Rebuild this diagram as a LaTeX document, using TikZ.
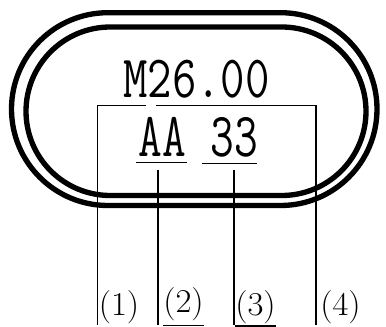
\documentclass[tikz,border=0pt]{standalone}
\usepackage{fontspec}
\usepackage{tikz}
\usepackage{amsmath}

\begin{document}
\begin{tikzpicture}[x=0.75pt,y=-0.75pt,
			ring/.style={line width=4pt},
			lead/.style={line width=1pt},
			code/.style={font=\fontsize{45}{48}\selectfont\ttfamily, inner sep=0pt, anchor=base, xscale=0.79},
			tag/.style={font=\fontsize{25}{27}\selectfont, inner sep=0pt, anchor=base west, xscale=1.04}]
			\useasboundingbox (0,0) rectangle (386,327);
			% the two rings
			\draw[ring, rounded corners=72.3pt] (11.5,12.7) rectangle (377,205.5);
			\draw[ring, rounded corners=63.2pt] (26,27) rectangle (366,195.5);
			% marking
			\node[code] (mark) at (196.5,98) {M26.00};
			\node[code, font=\fontsize{47}{50}\selectfont\ttfamily, xscale=0.93] (aa) at (162.5,156.5) {AA};
			\node[code, font=\fontsize{47}{50}\selectfont\ttfamily, xscale=0.93] (nn) at (234.5,156.5) {33};
			\draw[lead] (136,162.5) -- (187,162.5);
			\draw[lead] (202,163.5) -- (257,163.5);
			% labels
			\node[tag] (l1) at (98.5,316) {(1)};
			\node[tag] (l2) at (163,313) {(2)};
			\node[tag] (l3) at (235,316) {(3)};
			\node[tag] (l4) at (320,316) {(4)};
			\draw[lead] ([yshift=-3pt]l2.south west) -- ([yshift=-3pt]l2.south east);
			\draw[lead] ([yshift=-1pt]l3.south west) -- ([yshift=-1pt]l3.south east);
			% leaders
			\coordinate (b1) at (97.5,105.5);
			\coordinate (b2) at (146,105.5);
			\coordinate (b3) at (156,105.5);
			\coordinate (b4) at (316,105.5);
			\coordinate (t2) at (158,170);
			\coordinate (t3) at (234,170);
			\draw[lead] (b1 |- l1.south) -- (b1) -- (b2);
			\draw[lead] (b3) -- (b4) -- (b4 |- l4.south);
			\draw[lead] (t2) -- (t2 |- l1.south);
			\draw[lead] (t3) -- (t3 |- l1.south);
\end{tikzpicture}
\end{document}
